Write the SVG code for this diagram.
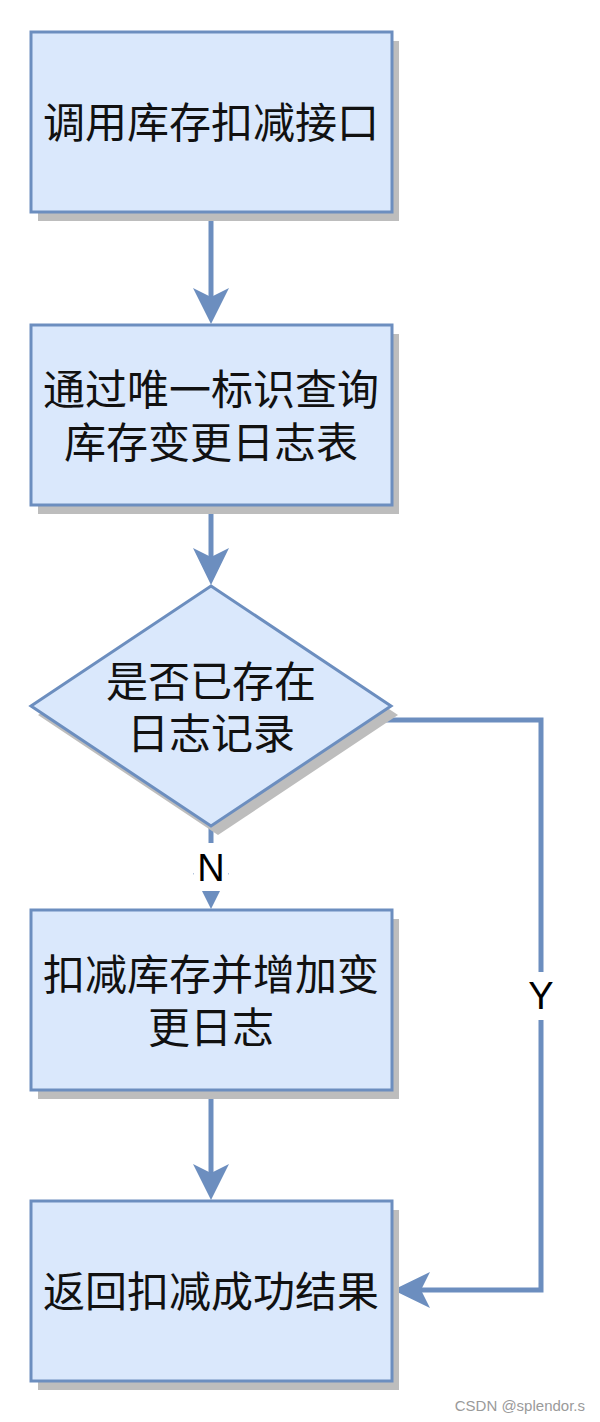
<svg xmlns="http://www.w3.org/2000/svg" width="600" height="1422" viewBox="0 0 600 1422">
<style>
.shadow{fill:#bdbdbd}
.node{fill:#dae8fc;stroke:#6c8ebf;stroke-width:3}
.label{font-family:"Noto Sans CJK SC","Noto Sans",sans-serif;font-size:42px;fill:#111;text-anchor:middle;dominant-baseline:central}
.edge{fill:none;stroke:#6c8ebf;stroke-width:5}
.head{fill:#6c8ebf;stroke:none}
.elabel{font-family:"Liberation Sans",Arial,sans-serif;font-size:38px;fill:#000;text-anchor:middle;dominant-baseline:central}
.wm{font-family:"Liberation Sans",Arial,sans-serif;font-size:15px;fill:#9a9a9a;text-anchor:end}
</style>
<rect width="600" height="1422" fill="#ffffff"/>
<g id="connectors">
<line class="edge" x1="211" y1="212" x2="211" y2="297"/>
<path class="head" d="M211,324 L193,288 L211,297 L229,288 Z"/>
<line class="edge" x1="211" y1="505" x2="211" y2="557"/>
<path class="head" d="M211,585 L193,548 L211,557 L229,548 Z"/>
<line class="edge" x1="211" y1="826" x2="211" y2="882"/>
<path class="head" d="M211,909 L193,873 L211,882 L229,873 Z"/>
<polyline class="edge" points="370,720 541,720 541,1290 421,1290"/>
<path class="head" d="M393,1290 L430,1272 L421,1290 L430,1308 Z"/>
<line class="edge" x1="211" y1="1090" x2="211" y2="1173"/>
<path class="head" d="M211,1200 L193,1164 L211,1173 L229,1164 Z"/>
<g id="label-N">
<rect x="194" y="843" width="34" height="48" fill="#ffffff"/>
<text class="elabel" x="211" y="868">N</text>
</g>
<g id="label-Y">
<rect x="524" y="972" width="34" height="48" fill="#ffffff"/>
<text class="elabel" x="541" y="996">Y</text>
</g>
</g>
<g id="node1">
<rect class="shadow" x="38" y="41" width="361" height="180"/>
<rect class="node" x="31" y="32" width="361" height="180"/>
<text class="label" x="211" y="119">调用库存扣减接口</text>
</g>
<g id="node2">
<rect class="shadow" x="38" y="334" width="361" height="180"/>
<rect class="node" x="31" y="325" width="361" height="180"/>
<text class="label" x="211" y="386"><tspan x="211" y="386">通过唯一标识查询</tspan><tspan x="211" y="439">库存变更日志表</tspan></text>
</g>
<g id="node3">
<polygon class="shadow" points="218,595 398,715 218,835 38,715"/>
<polygon class="node" points="211,586 391,706 211,826 31,706"/>
<text class="label" x="211" y="678"><tspan x="211" y="678">是否已存在</tspan><tspan x="211" y="730">日志记录</tspan></text>
</g>
<g id="node4">
<rect class="shadow" x="38" y="919" width="361" height="180"/>
<rect class="node" x="31" y="910" width="361" height="180"/>
<text class="label" x="211" y="971"><tspan x="211" y="971">扣减库存并增加变</tspan><tspan x="211" y="1024">更日志</tspan></text>
</g>
<g id="node5">
<rect class="shadow" x="38" y="1210" width="361" height="180"/>
<rect class="node" x="31" y="1201" width="361" height="180"/>
<text class="label" x="211" y="1288">返回扣减成功结果</text>
</g>
<text class="wm" x="585" y="1411">CSDN @splendor.s</text>
</svg>
